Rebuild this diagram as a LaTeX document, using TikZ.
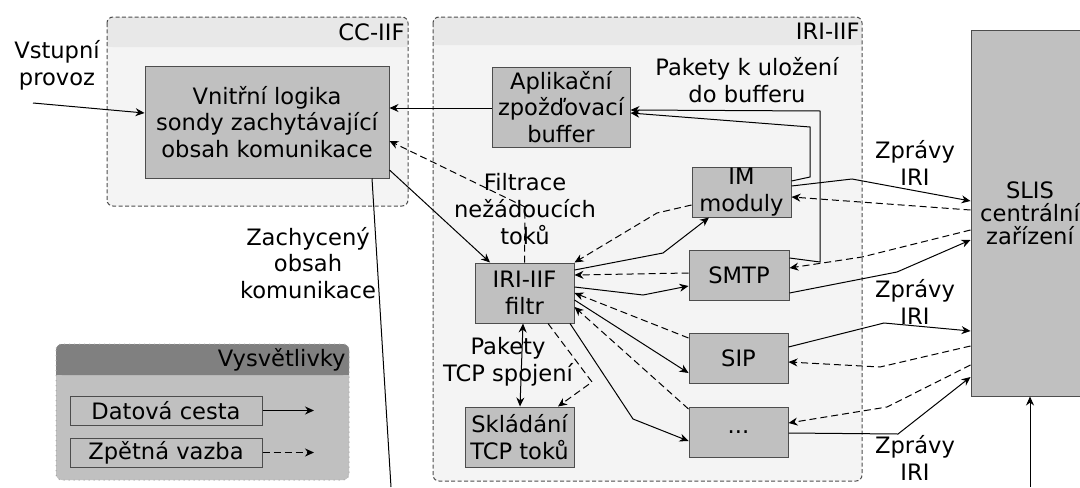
\documentclass[tikz,border=0pt]{standalone}
\usepackage{fontspec}
\setmainfont{DejaVu Sans}
\usetikzlibrary{arrows.meta,calc}
\definecolor{vypln}{HTML}{C0C0C0}
\definecolor{ramec}{HTML}{F4F4F4}
\definecolor{zahlavi}{HTML}{E8E8E8}
\definecolor{okraj}{HTML}{4D4D4D}
\definecolor{legzahlavi}{HTML}{808080}
\begin{document}
\begin{tikzpicture}[x=0.5pt, y=-0.5pt, >={Stealth[length=4.5pt,width=4pt]},
		font=\fontsize{11.3}{13.4}\selectfont, line width=0.5pt,
		blok/.style={draw=okraj, fill=vypln, align=center, inner sep=0pt},
		zpet/.style={dash pattern=on 3.5pt off 2pt},
		popis/.style={align=center, inner sep=0pt}]
			\useasboundingbox (0,0) rectangle (1080,487);
			\fill[ramec, rounded corners=3] (107,17) rectangle (408,206);
			\fill[zahlavi, rounded corners=3] (107,17) rectangle (408,47);
			\fill[zahlavi] (107,35) rectangle (408,47);
			\draw[okraj, dash pattern=on 2pt off 1.2pt, rounded corners=3] (107,17) rectangle (408,206);
			\fill[ramec, rounded corners=3] (433,17) rectangle (862,481);
			\fill[zahlavi, rounded corners=3] (433,17) rectangle (862,45);
			\fill[zahlavi] (433,35) rectangle (862,45);
			\draw[okraj, dash pattern=on 2pt off 1.2pt, rounded corners=3] (433,17) rectangle (862,481);
			\fill[vypln, rounded corners=3] (56,344) rectangle (349,480);
			\fill[legzahlavi, rounded corners=3] (56,344) rectangle (349,375);
			\fill[legzahlavi] (56,360) rectangle (349,375);
			\draw[black!35, dotted, rounded corners=3] (56,344) rectangle (349,480);
			\node[popis, anchor=east] (cciif) at (405,32) {CC-IIF};
			\node[popis, anchor=east] (iriiif) at (860,31) {IRI-IIF};
			\node[popis, anchor=east] (vysv) at (346,360) {Vysvětlivky};
			\node[blok, minimum width=122pt, minimum height=56pt] (logika) at (267,122) {Vnitřní logika\\sondy zachytávající\\obsah komunikace};
			\node[blok, minimum width=69pt, minimum height=40pt] (aplikace) at (561,107) {Aplikační\\zpožďovací\\buffer};
			\node[blok, minimum width=49.5pt, minimum height=25pt] (im) at (741.5,192) {IM\\moduly};
			\node[blok, minimum width=50pt, minimum height=25pt] (smtp) at (739,275) {SMTP};
			\node[blok, minimum width=49.5pt, minimum height=25pt] (sip) at (738.5,358) {SIP};
			\node[blok, minimum width=49.5pt, minimum height=25pt] (tecky) at (738.5,432) {...};
			\node[blok, minimum width=49.5pt, minimum height=30pt] (filtr) at (524.5,293) {IRI-IIF\\filtr};
			\node[blok, minimum width=54.5pt, minimum height=30pt] (skladani) at (519.5,437) {Skládání\\TCP toků};
			\node[blok, minimum width=59pt, minimum height=183pt, font=\fontsize{11.3}{11.4}\selectfont] (slis) at (1030,213) {SLIS\\centrální\\zařízení};
			\node[blok, draw=black!70, minimum width=96pt, minimum height=14.5pt] (datova) at (166,410.5) {Datová cesta};
			\node[blok, draw=black!70, minimum width=96pt, minimum height=14.5pt] (zpetna) at (166,452.5) {Zpětná vazba};
			\node[popis] (vstup) at (57,65) {Vstupní\\provoz};
			\node[popis] (pakety) at (747,80) {Pakety k uložení\\do bufferu};
			\node[popis] (filtrace) at (525,209) {Filtrace\\nežádoucích\\toků};
			\node[popis] (zachyceny) at (308,263) {Zachycený\\obsah\\komunikace};
			\node[popis] (tcp) at (508,362) {Pakety\\TCP spojení};
			\node[popis] (zpravy1) at (915,163) {Zprávy\\IRI};
			\node[popis] (zpravy2) at (915,302) {Zprávy\\IRI};
			\node[popis] (zpravy3) at (915,458) {Zprávy\\IRI};
			\coordinate (vstupbod) at (33,103);
			\coordinate (zachyt) at (391,487);
			\coordinate (slisvstup) at (1030,487);
			\coordinate (datovakonec) at (314,410.5);
			\coordinate (zpetnakonec) at (314,452.5);
			\draw[->] (vstupbod) -- (logika.west |- 0,113);
			\draw[->] (aplikace.west |- 0,108) -- (logika.east |- 0,108);
			\draw[zpet,->] (filtr.north) -- (525,207) -- (logika.east |- 0,141);
			\draw[->] (logika.east |- 0,170) -- (filtr.north -| 490,0);
			\draw (logika.south -| 372,0) -- (zachyt);
			\draw[->] (im.east |- 0,181) -- (810,177) -- (810,127) -- (aplikace.east |- 0,113);
			\draw[->] (smtp.east |- 0,258) -- (820,262) -- (820,111) -- (aplikace.east |- 0,110);
			\draw[->] (im.east |- 0,186) -- (852,179) -- (slis.west |- 0,201);
			\draw[zpet,->] (slis.west |- 0,210) -- (im.east |- 0,197);
			\draw[zpet,->] (slis.west |- 0,230) -- (862,257) -- (smtp.east |- 0,268);
			\draw[->] (smtp.east |- 0,293) -- (897,272) -- (slis.west |- 0,240);
			\draw[->] (sip.east |- 0,347) -- (884,323) -- (slis.west |- 0,331);
			\draw[zpet,->] (slis.west |- 0,346) -- (880,367) -- (sip.east |- 0,362);
			\draw[zpet,->] (slis.west |- 0,365) -- (887,407) -- (tecky.east |- 0,423);
			\draw[->] (tecky.east |- 0,433) -- (898,434) -- (slis.west |- 0,377);
			\draw[->] (slisvstup) -- (slis.south);
			\draw[->] (filtr.east |- 0,270) -- (663,253) -- (im.south -| 709,0);
			\draw[zpet,->] (im.west |- 0,205) -- (657,213) -- (filtr.north east);
			\draw[zpet,->] (smtp.west |- 0,273) -- (filtr.east |- 0,275);
			\draw[->] (filtr.east |- 0,287) -- (643,295) -- (smtp.west |- 0,286);
			\draw[zpet,->] (sip.west |- 0,338) -- (filtr.east |- 0,293);
			\draw[->] (filtr.east |- 0,300) -- (sip.west |- 0,373);
			\draw[zpet,->] (tecky.west |- 0,409) -- (filtr.east |- 0,307);
			\draw[->] (filtr.south -| 570,0) -- (633,419) -- (tecky.west |- 0,441);
			\draw[<->] (filtr.south -| 523,0) -- (skladani.north -| 520,0);
			\draw[zpet,->] (filtr.south -| 548,0) -- (592,382) -- (skladani.north -| 558,0);
			\draw[->] (datova.east) -- (datovakonec);
			\draw[zpet,->] (zpetna.east) -- (zpetnakonec);
		\end{tikzpicture}
\end{document}
